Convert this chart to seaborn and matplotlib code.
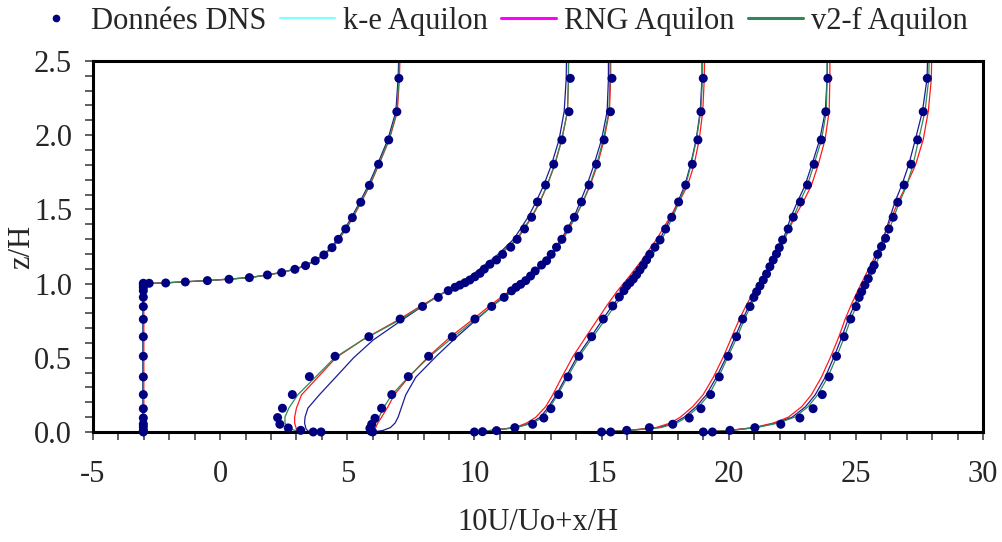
import pandas as pd
import matplotlib
matplotlib.use('Agg')
import matplotlib.pyplot as plt
from matplotlib.lines import Line2D
from matplotlib.ticker import MultipleLocator, FormatStrFormatter
import seaborn as sns

# --- DNS points (10U/Uo + x/H , z/H), one pair of lists per station ---
dns1_x = [-3.02, -3.02, -3.02, -3.02, -3.02, -3.02, -3.02, -3.02, -3.02, -3.02, -3.02, -3.02,
          -3.02, -3.02, -3.02, -3.02, -3.02, -2.79, -2.14, -1.37, -0.50, 0.35, 1.15, 1.86, 2.42,
          2.94, 3.36, 3.74, 4.08, 4.40, 4.65, 4.94, 5.20, 5.53, 5.87, 6.23, 6.63, 6.95, 7.03]
dns1_z = [0.0, 0.013, 0.036, 0.054, 0.094, 0.157, 0.252, 0.371, 0.51, 0.642, 0.759, 0.845,
          0.908, 0.952, 0.975, 0.99, 1.002, 1.002, 1.004, 1.011, 1.02, 1.029, 1.04, 1.058, 1.074,
          1.096, 1.121, 1.154, 1.193, 1.242, 1.298, 1.368, 1.444, 1.548, 1.662, 1.804, 1.968, 2.158, 2.383]

dns2_x = [3.97, 3.66, 3.17, 2.68, 2.35, 2.26, 2.45, 2.84, 3.51, 4.52, 5.85, 7.08, 7.96, 8.58,
          8.97, 9.24, 9.43, 9.63, 9.82, 10.02, 10.22, 10.39, 10.61, 10.87, 11.11, 11.43, 11.68,
          11.97, 12.25, 12.48, 12.80, 13.12, 13.44, 13.72, 13.77]
dns2_z = [0.0, 0.0, 0.011, 0.027, 0.052, 0.097, 0.16, 0.252, 0.373, 0.51, 0.642, 0.761, 0.846,
          0.907, 0.952, 0.975, 0.99, 1.006, 1.024, 1.046, 1.069, 1.098, 1.13, 1.159, 1.197, 1.245,
          1.298, 1.368, 1.447, 1.55, 1.664, 1.804, 1.968, 2.158, 2.383]

dns3_x = [6.0, 5.93, 5.89, 5.96, 6.09, 6.35, 6.75, 7.40, 8.20, 9.13, 10.02, 10.68, 11.17, 11.46,
          11.64, 11.82, 12.02, 12.21, 12.39, 12.64, 12.84, 13.02, 13.23, 13.44, 13.68, 13.93,
          14.21, 14.51, 14.80, 15.10, 15.35, 15.41]
dns3_z = [0.0, 0.005, 0.025, 0.052, 0.092, 0.16, 0.252, 0.373, 0.51, 0.642, 0.761, 0.846, 0.907,
          0.951, 0.975, 0.995, 1.02, 1.051, 1.085, 1.125, 1.154, 1.197, 1.245, 1.298, 1.368,
          1.447, 1.55, 1.664, 1.804, 1.968, 2.158, 2.383]

dns4_x = [10.0, 10.32, 10.87, 11.59, 12.29, 12.73, 13.01, 13.31, 13.68, 14.11, 14.61, 15.07,
          15.44, 15.70, 15.88, 15.99, 16.12, 16.25, 16.38, 16.51, 16.64, 16.77, 16.90, 17.10,
          17.30, 17.52, 17.76, 18.03, 18.31, 18.57, 18.79, 18.91, 19.0]
dns4_z = [0.0, 0.002, 0.009, 0.029, 0.052, 0.094, 0.157, 0.252, 0.371, 0.51, 0.642, 0.761,
          0.849, 0.91, 0.952, 0.984, 1.006, 1.031, 1.06, 1.092, 1.123, 1.159, 1.197, 1.245,
          1.294, 1.368, 1.447, 1.55, 1.664, 1.804, 1.968, 2.158, 2.383]

dns5_x = [15.0, 15.36, 15.99, 16.88, 17.80, 18.45, 18.91, 19.29, 19.63, 19.98, 20.31, 20.55,
          20.84, 20.99, 21.10, 21.23, 21.36, 21.49, 21.62, 21.75, 21.88, 21.99, 22.12, 22.34,
          22.54, 22.82, 23.10, 23.36, 23.64, 23.82, 23.90]
dns5_z = [0.0, 0.0, 0.011, 0.029, 0.052, 0.094, 0.157, 0.252, 0.371, 0.51, 0.642, 0.761, 0.845,
          0.907, 0.945, 0.984, 1.024, 1.065, 1.114, 1.159, 1.2, 1.242, 1.294, 1.368, 1.447, 1.55,
          1.664, 1.804, 1.968, 2.158, 2.383]

dns6_x = [19.0, 19.36, 20.05, 21.03, 22.05, 22.80, 23.32, 23.68, 23.95, 24.24, 24.54, 24.80,
          25.01, 25.13, 25.23, 25.36, 25.49, 25.62, 25.72, 25.86, 26.01, 26.17, 26.30, 26.47,
          26.65, 26.90, 27.17, 27.43, 27.65, 27.81]
dns6_z = [0.0, 0.0, 0.011, 0.029, 0.052, 0.094, 0.157, 0.252, 0.371, 0.51, 0.642, 0.761, 0.845,
          0.907, 0.945, 0.99, 1.033, 1.09, 1.123, 1.197, 1.25, 1.305, 1.368, 1.447, 1.548, 1.664,
          1.804, 1.968, 2.158, 2.383]

# --- Aquilon model profiles: one z grid per station, one x list per model ---
mod1_z = [0.0, 0.5, 0.99, 1.0, 1.005, 1.012, 1.02, 1.03, 1.04, 1.058, 1.075, 1.096, 1.121,
          1.154, 1.193, 1.242, 1.298, 1.368, 1.444, 1.548, 1.662, 1.804, 1.968, 2.158, 2.383, 2.5]
ke1 = [-3.04, -3.04, -3.04, -2.88, -2.16, -1.40, -0.53, 0.32, 1.12, 1.83, 2.39, 2.90, 3.32,
       3.70, 4.04, 4.36, 4.61, 4.90, 5.16, 5.49, 5.83, 6.19, 6.59, 6.91, 7.00, 7.02]
rng1 = [-3.0, -3.0, -3.0, -2.82, -2.12, -1.35, -0.48, 0.37, 1.17, 1.88, 2.44, 2.96, 3.38, 3.76,
        4.10, 4.42, 4.67, 4.96, 5.22, 5.55, 5.89, 6.25, 6.65, 6.97, 7.05, 7.07]
v2f1 = [-3.02, -3.02, -3.02, -2.85, -2.14, -1.37, -0.50, 0.35, 1.15, 1.86, 2.42, 2.94, 3.36,
        3.74, 4.08, 4.40, 4.65, 4.94, 5.20, 5.53, 5.87, 6.23, 6.63, 6.95, 7.03, 7.05]

mod2_z = [0.0, 0.02, 0.06, 0.1, 0.16, 0.25, 0.37, 0.5, 0.62, 0.76, 0.85, 0.91, 0.98, 1.05, 1.13,
          1.2, 1.3, 1.45, 1.55, 1.66, 1.8, 1.97, 2.16, 2.38, 2.5]
ke2 = [3.5, 3.38, 3.32, 3.34, 3.45, 3.9, 4.55, 5.25, 6.02, 7.2, 7.98, 8.5, 9.2, 9.85, 10.45,
       10.95, 11.55, 12.12, 12.42, 12.72, 13.03, 13.33, 13.53, 13.61, 13.62]
rng2 = [3.25, 3.0, 2.93, 2.93, 3.0, 3.2, 3.85, 4.55, 5.6, 7.05, 7.9, 8.5, 9.25, 9.95, 10.55,
        11.05, 11.7, 12.27, 12.58, 12.86, 13.16, 13.44, 13.66, 13.7, 13.7]
v2f2 = [3.2, 2.75, 2.55, 2.55, 2.7, 3.05, 3.75, 4.5, 5.6, 7.12, 7.97, 8.52, 9.2, 9.85, 10.45,
        11.0, 11.65, 12.25, 12.56, 12.85, 13.15, 13.43, 13.66, 13.7, 13.7]

mod3_z = [0.0, 0.01, 0.03, 0.06, 0.1, 0.17, 0.25, 0.37, 0.51, 0.64, 0.76, 0.85, 0.95, 1.05, 1.15,
          1.3, 1.45, 1.55, 1.66, 1.8, 1.97, 2.16, 2.38, 2.5]
ke3 = [6.0, 6.4, 6.7, 6.88, 7.0, 7.14, 7.3, 7.7, 8.5, 9.3, 10.1, 10.7, 11.45, 12.18, 12.82, 13.42,
       13.92, 14.16, 14.42, 14.7, 15.0, 15.22, 15.27, 15.27]
rng3 = [6.0, 6.05, 6.12, 6.2, 6.35, 6.6, 6.85, 7.42, 8.2, 9.05, 9.95, 10.6, 11.38, 12.15, 12.85,
        13.45, 13.97, 14.27, 14.55, 14.84, 15.1, 15.31, 15.36, 15.36]
v2f3 = [5.96, 6.0, 6.05, 6.12, 6.25, 6.45, 6.75, 7.40, 8.25, 9.17, 10.05, 10.72, 11.52, 12.25,
        12.9, 13.5, 13.98, 14.26, 14.53, 14.8, 15.07, 15.29, 15.33, 15.33]

mod4_z = mod3_z
ke4 = [10.0, 10.65, 11.62, 12.2, 12.6, 12.92, 13.22, 13.6, 14.05, 14.58, 15.05, 15.42, 15.88,
       16.33, 16.76, 17.3, 17.74, 18.0, 18.27, 18.5, 18.72, 18.88, 18.95, 18.95]
rng4 = [10.0, 10.6, 11.6, 12.05, 12.42, 12.8, 13.08, 13.44, 13.88, 14.38, 14.85, 15.2, 15.62,
        16.1, 16.55, 17.17, 17.7, 18.05, 18.38, 18.64, 18.84, 18.98, 19.04, 19.05]
v2f4 = [10.0, 10.7, 11.65, 12.3, 12.7, 12.98, 13.27, 13.66, 14.12, 14.66, 15.15, 15.52, 15.97,
        16.43, 16.85, 17.38, 17.8, 18.05, 18.3, 18.52, 18.73, 18.9, 18.97, 18.97]

mod5_z = mod3_z
ke5 = [15.0, 16.05, 17.25, 17.85, 18.25, 18.72, 19.12, 19.52, 19.92, 20.25, 20.55, 20.8, 21.1,
       21.45, 21.78, 22.15, 22.45, 22.7, 23.0, 23.27, 23.58, 23.8, 23.87, 23.88]
rng5 = [15.0, 16.0, 17.15, 17.7, 18.1, 18.58, 18.99, 19.4, 19.8, 20.12, 20.42, 20.68, 21.0,
        21.38, 21.76, 22.2, 22.6, 22.93, 23.25, 23.52, 23.79, 23.95, 23.98, 23.98]
v2f5 = [15.0, 16.1, 17.35, 17.95, 18.35, 18.82, 19.22, 19.6, 19.98, 20.33, 20.62, 20.87, 21.17,
        21.5, 21.82, 22.2, 22.55, 22.8, 23.09, 23.35, 23.65, 23.84, 23.87, 23.87]

mod6_z = mod3_z
ke6 = [19.0, 20.02, 21.05, 21.85, 22.5, 23.02, 23.4, 23.8, 24.15, 24.45, 24.7, 24.93, 25.2,
       25.47, 25.74, 26.08, 26.35, 26.54, 26.8, 27.08, 27.34, 27.62, 27.8, 27.82]
rng6 = [19.0, 20.0, 21.0, 21.75, 22.35, 22.87, 23.25, 23.65, 24.02, 24.33, 24.58, 24.8, 25.07,
        25.36, 25.66, 26.05, 26.42, 26.66, 26.98, 27.35, 27.65, 27.85, 27.97, 27.98]
v2f6 = [19.0, 20.05, 21.1, 21.95, 22.6, 23.12, 23.5, 23.9, 24.25, 24.55, 24.8, 25.03, 25.3,
        25.57, 25.84, 26.18, 26.5, 26.72, 27.0, 27.25, 27.47, 27.72, 27.87, 27.88]

# --- build long tables ---
dns_sets = [(dns1_x, dns1_z), (dns2_x, dns2_z), (dns3_x, dns3_z),
            (dns4_x, dns4_z), (dns5_x, dns5_z), (dns6_x, dns6_z)]
dns = pd.concat([pd.DataFrame({'x': xs, 'z': zs, 'station': i})
                 for i, (xs, zs) in enumerate(dns_sets)], ignore_index=True)

model_z = [mod1_z, mod2_z, mod3_z, mod4_z, mod5_z, mod6_z]
models = {
    'k-e': [ke1, ke2, ke3, ke4, ke5, ke6],
    'RNG': [rng1, rng2, rng3, rng4, rng5, rng6],
    'v2-f': [v2f1, v2f2, v2f3, v2f4, v2f5, v2f6],
}
curve_colors = {'k-e': '#1c1c99', 'RNG': '#ff1a1a', 'v2-f': '#2e8b57'}

sns.set_style('ticks')
plt.rcParams['font.family'] = ['Liberation Serif', 'DejaVu Serif']
plt.rcParams['font.size'] = 22
plt.rcParams['axes.unicode_minus'] = False

fig = plt.figure(figsize=(10.02, 5.42), dpi=100)
ax = fig.add_axes([0.0928, 0.203, 0.8882, 0.6845])

for name, series in models.items():
    df_m = pd.concat([pd.DataFrame({'x': xs, 'z': zs, 'station': i})
                      for i, (xs, zs) in enumerate(zip(series, model_z))], ignore_index=True)
    sns.lineplot(data=df_m, x='x', y='z', units='station', estimator=None, sort=False,
                 color=curve_colors[name], lw=0.9, ax=ax, legend=False, zorder=2)

sns.scatterplot(data=dns, x='x', y='z', color='#000080', s=42, edgecolor='none',
                ax=ax, legend=False, zorder=3, clip_on=False)

ax.set_xlim(-5, 30)
ax.set_ylim(0, 2.5)
ax.xaxis.set_major_locator(MultipleLocator(5))
ax.xaxis.set_minor_locator(MultipleLocator(1))
ax.yaxis.set_major_locator(MultipleLocator(0.5))
ax.yaxis.set_minor_locator(MultipleLocator(0.1))
ax.yaxis.set_major_formatter(FormatStrFormatter('%.1f'))
ax.tick_params(which='both', direction='out', length=6, width=1.2, color='#444444',
               top=False, right=False)
ax.tick_params(axis='x', which='major', pad=14, labelsize=22)
ax.tick_params(axis='y', which='major', pad=9, labelsize=22)
for sp in ax.spines.values():
    sp.set_linewidth(2.2)
    sp.set_color('black')
    sp.set_visible(True)

ax.set_xlabel('10U/Uo+x/H', fontsize=22)
ax.set_ylabel('z/H', fontsize=22)
ax.xaxis.set_label_coords(0.5, -0.205)
ax.yaxis.set_label_coords(-0.064, 0.5)

handles = [
    Line2D([], [], ls='none', marker='o', ms=4.5, color='#000080', label='Données DNS'),
    Line2D([], [], color='#7fffff', lw=1.5, label='k-e Aquilon'),
    Line2D([], [], color='#ff00ff', lw=2.2, label='RNG Aquilon'),
    Line2D([], [], color='#2e8b57', lw=2.2, label='v2-f Aquilon'),
]
fig.legend(handles=handles, loc='center', bbox_to_anchor=(0.497, 0.96), ncol=4,
           frameon=False, fontsize=22, handlelength=1.8, handletextpad=0.25,
           columnspacing=0.45, borderaxespad=0)

fig.savefig('out.png', dpi=100)
